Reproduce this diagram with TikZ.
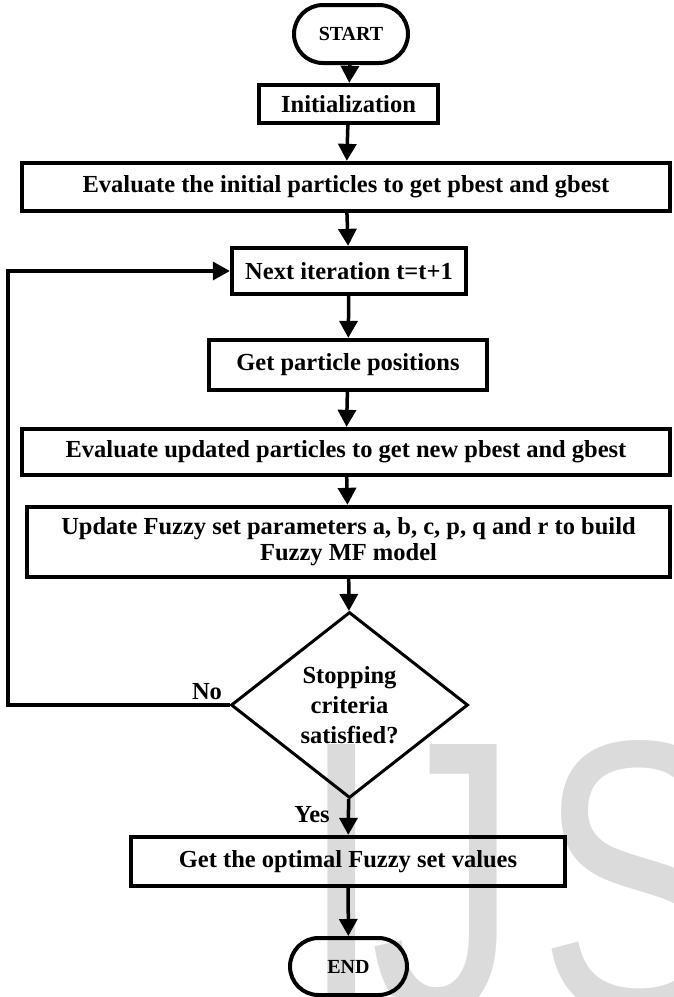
\documentclass[tikz,border=0pt]{standalone}
\usepackage{fontspec}
\setmainfont{Liberation Serif}
\newfontfamily\wmfont{Liberation Sans}
\usepackage{xcolor}
\usepackage{tikz}
\usetikzlibrary{arrows.meta, positioning, shapes.geometric, shapes.misc}
\definecolor{wmgrey}{RGB}{219,219,219}
\tikzset{
    flowbox/.style={draw, line width=4.3pt, inner sep=0pt, align=center,
        font=\fontsize{24.5}{30}\selectfont\bfseries},
    terminal/.style={draw, rounded rectangle, line width=4pt, inner sep=0pt,
        minimum width=114pt, minimum height=58pt,
        font=\fontsize{20}{24}\selectfont\bfseries},
    decision/.style={draw, diamond, line width=3pt, inner sep=0pt, align=center,
        minimum width=237pt, minimum height=186pt,
        font=\fontsize{24.5}{30}\selectfont\bfseries},
    flowline/.style={line width=3.5pt, -{Triangle[length=17pt, width=18pt]}},
    tag/.style={font=\fontsize{24.5}{30}\selectfont\bfseries, inner sep=0pt},
    wmark/.style={anchor=base west, inner sep=0pt, text=wmgrey,
        font=\fontsize{391}{391}\selectfont\wmfont}
}

\begin{document}
\begin{tikzpicture}[x=1pt, y=-1pt]
    \useasboundingbox (0,0) rectangle (673,997);
    % Watermark
    \begin{scope}
        \clip (0,0) rectangle (673,997);
        \node[wmark] (wmi) at (300,1013) {\scalebox{0.76}[1]{I}};
        \node[wmark] (wmj) at (370.6,1013) {\scalebox{0.76}[1]{J}};
        \node[wmark] (wms) at (538,1013) {\scalebox{0.76}[1]{S}};
    \end{scope}
    % Steps
    \node[terminal] (start) at (351,34) {START};
    \node[flowbox, minimum width=179pt, minimum height=38pt] (init) at (348.5,104) {Initialization};
    \node[flowbox, minimum width=648pt, minimum height=48pt] (evali) at (346,187)
        {Evaluate the initial particles to get pbest and gbest};
    \node[flowbox, minimum width=234pt, minimum height=46pt] (next) at (349,271) {Next iteration t=t+1};
    \node[flowbox, minimum width=278pt, minimum height=50pt] (getpos) at (348,365) {Get particle positions};
    \node[flowbox, minimum width=648pt, minimum height=46pt] (evalu) at (346,452)
        {Evaluate updated particles to get new pbest and gbest};
    \node[flowbox, minimum width=643pt, minimum height=70pt,
        font=\fontsize{24.5}{26}\selectfont\bfseries] (update) at (348.5,542)
        {Update Fuzzy set parameters a, b, c, p, q and r to build\\Fuzzy MF model};
    \node[decision] (dec) at (349.5,705) {Stopping\\criteria\\satisfied?};
    \node[flowbox, minimum width=434pt, minimum height=49pt] (opt) at (348,861.5)
        {Get the optimal Fuzzy set values};
    \node[terminal, minimum width=117pt, minimum height=57pt] (end) at (348.5,966.5) {END};
    % Connectors
    \draw[flowline] (start) -- (init);
    \draw[flowline] (init) -- (evali);
    \draw[flowline] (evali) -- (next);
    \draw[flowline] (next) -- (getpos);
    \draw[flowline] (getpos) -- (evalu);
    \draw[flowline] (evalu) -- (update);
    \draw[flowline] (update) -- (dec);
    \draw[flowline] (dec) -- (opt);
    \draw[flowline] (opt) -- (end);
    % Loop back
    \coordinate (loop) at (8,706);
    \draw[flowline] (dec.west) -- (dec.west -| loop) |- (next.west);
    \node[tag] (nolbl) at (207,692) {No};
    \node[tag] (yeslbl) at (312,815) {Yes};
\end{tikzpicture}
\end{document}
